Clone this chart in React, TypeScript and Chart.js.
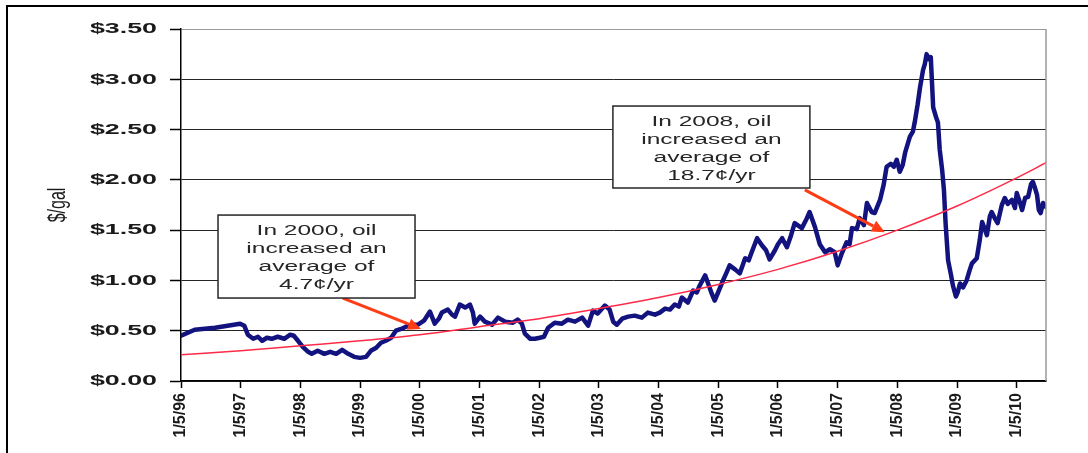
import { useEffect, useRef } from 'react';
import { Chart, registerables } from 'chart.js';

Chart.register(...registerables);

// Weekly oil price, $/gal: [year (fraction), price]
const PRICE_POINTS: [number, number][] = [
  [1996.00, 0.45], [1996.23, 0.51], [1996.57, 0.53], [1996.99, 0.57], [1997.06, 0.55], [1997.12, 0.46],
  [1997.21, 0.42], [1997.29, 0.44], [1997.36, 0.40], [1997.44, 0.43], [1997.52, 0.42], [1997.62, 0.44],
  [1997.73, 0.42], [1997.83, 0.46], [1997.89, 0.45], [1997.96, 0.40], [1998.04, 0.34], [1998.13, 0.29],
  [1998.19, 0.27], [1998.29, 0.30], [1998.40, 0.27], [1998.50, 0.29], [1998.60, 0.27], [1998.70, 0.31],
  [1998.80, 0.27], [1998.90, 0.24], [1999.00, 0.23], [1999.10, 0.24], [1999.18, 0.30], [1999.27, 0.33],
  [1999.35, 0.38], [1999.43, 0.40], [1999.52, 0.43], [1999.60, 0.50], [1999.70, 0.52], [1999.80, 0.55],
  [1999.90, 0.56], [1999.97, 0.56], [2000.07, 0.60], [2000.17, 0.69], [2000.25, 0.57], [2000.32, 0.62],
  [2000.37, 0.68], [2000.47, 0.71], [2000.54, 0.66], [2000.59, 0.64], [2000.67, 0.76], [2000.76, 0.73],
  [2000.84, 0.76], [2000.89, 0.68], [2000.92, 0.57], [2001.01, 0.64], [2001.09, 0.59], [2001.21, 0.56],
  [2001.31, 0.63], [2001.43, 0.59], [2001.56, 0.58], [2001.64, 0.61], [2001.71, 0.57], [2001.76, 0.47],
  [2001.85, 0.42], [2001.93, 0.42], [2002.01, 0.43], [2002.08, 0.44], [2002.15, 0.53], [2002.26, 0.58],
  [2002.38, 0.57], [2002.48, 0.61], [2002.60, 0.59], [2002.72, 0.63], [2002.82, 0.55], [2002.90, 0.70],
  [2002.98, 0.67], [2003.10, 0.75], [2003.18, 0.71], [2003.24, 0.59], [2003.30, 0.56], [2003.39, 0.62],
  [2003.49, 0.64], [2003.60, 0.65], [2003.72, 0.63], [2003.82, 0.68], [2003.94, 0.66], [2004.02, 0.68],
  [2004.11, 0.72], [2004.19, 0.71], [2004.27, 0.76], [2004.34, 0.74], [2004.39, 0.83], [2004.49, 0.78],
  [2004.58, 0.90], [2004.64, 0.88], [2004.69, 0.95], [2004.78, 1.05], [2004.83, 0.97], [2004.89, 0.87],
  [2004.94, 0.80], [2004.99, 0.87], [2005.08, 1.00], [2005.14, 1.08], [2005.19, 1.15], [2005.28, 1.11],
  [2005.36, 1.07], [2005.45, 1.22], [2005.51, 1.20], [2005.56, 1.28], [2005.65, 1.42], [2005.73, 1.35],
  [2005.80, 1.30], [2005.86, 1.21], [2005.95, 1.30], [2006.00, 1.36], [2006.07, 1.42], [2006.15, 1.33],
  [2006.22, 1.45], [2006.28, 1.57], [2006.40, 1.52], [2006.47, 1.60], [2006.53, 1.68], [2006.62, 1.53],
  [2006.70, 1.36], [2006.79, 1.28], [2006.87, 1.31], [2006.95, 1.28], [2007.00, 1.15], [2007.07, 1.27],
  [2007.15, 1.38], [2007.20, 1.36], [2007.24, 1.52], [2007.32, 1.51], [2007.37, 1.62], [2007.44, 1.55],
  [2007.49, 1.77], [2007.57, 1.68], [2007.62, 1.67], [2007.71, 1.80], [2007.77, 1.95], [2007.82, 2.13],
  [2007.89, 2.16], [2007.94, 2.13], [2007.99, 2.20], [2008.04, 2.08], [2008.09, 2.15], [2008.13, 2.27],
  [2008.21, 2.43], [2008.26, 2.48], [2008.29, 2.57], [2008.34, 2.75], [2008.38, 2.92], [2008.43, 3.09],
  [2008.46, 3.15], [2008.49, 3.25], [2008.53, 3.20], [2008.56, 3.22], [2008.60, 2.72], [2008.65, 2.62],
  [2008.68, 2.57], [2008.71, 2.30], [2008.75, 2.10], [2008.78, 1.90], [2008.81, 1.55], [2008.85, 1.20],
  [2008.90, 1.05], [2008.93, 0.95], [2008.98, 0.84], [2009.01, 0.88], [2009.05, 0.97], [2009.10, 0.93],
  [2009.16, 1.00], [2009.21, 1.10], [2009.25, 1.17], [2009.33, 1.22], [2009.38, 1.40], [2009.42, 1.58],
  [2009.47, 1.50], [2009.50, 1.45], [2009.55, 1.64], [2009.58, 1.68], [2009.63, 1.62], [2009.68, 1.57],
  [2009.75, 1.75], [2009.80, 1.82], [2009.85, 1.76], [2009.92, 1.80], [2009.97, 1.72], [2010.00, 1.87],
  [2010.05, 1.78], [2010.09, 1.70], [2010.14, 1.82], [2010.19, 1.83], [2010.24, 1.96], [2010.27, 1.98],
  [2010.30, 1.93], [2010.34, 1.85], [2010.37, 1.70], [2010.40, 1.67], [2010.44, 1.77], [2010.49, 1.73],
];

// Red trend curve at each year
const TREND_YEARS = [1996, 1997, 1998, 1999, 2000, 2001, 2002, 2003, 2004, 2005, 2006, 2007, 2008, 2009, 2010, 2010.49];
const TREND_VALUES = [0.26, 0.30, 0.35, 0.40, 0.46, 0.54, 0.62, 0.72, 0.83, 0.96, 1.11, 1.29, 1.50, 1.74, 2.02, 2.17];

const TICK_YEARS = [1996, 1997, 1998, 1999, 2000, 2001, 2002, 2003, 2004, 2005, 2006, 2007, 2008, 2009, 2010];
const TICK_LABELS = ['1/5/96', '1/5/97', '1/5/98', '1/5/99', '1/5/00', '1/5/01', '1/5/02', '1/5/03', '1/5/04',
  '1/5/05', '1/5/06', '1/5/07', '1/5/08', '1/5/09', '1/5/10'];
const X_MIN = 1996;
const X_MAX = 2010.49;
const Y_MAX = 3.5;
const Y_STEP = 0.5;
const Y_TITLE = '$/gal';

const NOTES = [
  {
    lines: ['In 2000, oil', 'increased an', 'average of', '4.7¢/yr'],
    box: [1996.62, 1.65, 1999.92, 0.825],
    from: [1998.71, 0.825],
    to: [2000.02, 0.517],
  },
  {
    lines: ['In 2008, oil', 'increased an', 'average of', '18.7¢/yr'],
    box: [2003.235, 2.734, 2006.535, 1.919],
    from: [2006.45, 1.9],
    to: [2007.79, 1.48],
  },
];

const NAVY = '#13137f';
const TREND_RED = '#ff2a48';
const ARROW = '#ff3c16';
const INK = '#1a1a1a';
const GRID_DARK = '#262626';
const GRID_GRAY = '#9a9a9a';
const TEXT_STRETCH = 1.73; // the original picture is stretched sideways
const Y_LABEL_RIGHT = 157;

const framePlugin = {
  id: 'frameNotes',
  beforeDraw(chart: any) {
    chart.ctx.setTransform(1, 0, 0, 1, 0, 0);
  },
  afterDatasetsDraw(chart: any) {
    // y tick labels (ticks.z = 1) are drawn next: widen them about their right edge
    chart.ctx.setTransform(TEXT_STRETCH, 0, 0, 1, Y_LABEL_RIGHT * (1 - TEXT_STRETCH), 0);
  },
  afterDraw(chart: any) {
    const { ctx, chartArea: a } = chart;
    ctx.setTransform(1, 0, 0, 1, 0, 0);
    const xs = chart.scales.x;
    const ys = chart.scales.y;
    ctx.save();

    // plot area right border
    ctx.strokeStyle = GRID_GRAY;
    ctx.lineWidth = 1.5;
    ctx.beginPath();
    ctx.moveTo(a.right, a.top);
    ctx.lineTo(a.right, a.bottom);
    ctx.stroke();

    // outer frame
    ctx.strokeStyle = '#000';
    ctx.lineWidth = 2;
    ctx.beginPath();
    ctx.moveTo(7, chart.height);
    ctx.lineTo(7, 6);
    ctx.lineTo(chart.width, 6);
    ctx.stroke();

    // y axis title
    ctx.save();
    ctx.fillStyle = INK;
    ctx.font = '16px "Liberation Sans", Arial, sans-serif';
    ctx.textAlign = 'center';
    ctx.textBaseline = 'middle';
    ctx.translate(59, (a.top + a.bottom) / 2);
    ctx.rotate(-Math.PI / 2);
    ctx.scale(1, 1.45);
    ctx.fillText(Y_TITLE, 0, 0);
    ctx.restore();

    for (const n of NOTES) {
      // arrow
      const x1 = xs.getPixelForValue(n.from[0]);
      const y1 = ys.getPixelForValue(n.from[1]);
      const x2 = xs.getPixelForValue(n.to[0]);
      const y2 = ys.getPixelForValue(n.to[1]);
      const ang = Math.atan2(y2 - y1, x2 - x1);
      const hl = 13;
      const hw = 6;
      const bx = x2 - hl * Math.cos(ang);
      const by = y2 - hl * Math.sin(ang);
      ctx.strokeStyle = ARROW;
      ctx.fillStyle = ARROW;
      ctx.lineWidth = 3;
      ctx.beginPath();
      ctx.moveTo(x1, y1);
      ctx.lineTo(bx, by);
      ctx.stroke();
      ctx.beginPath();
      ctx.moveTo(x2, y2);
      ctx.lineTo(bx + hw * Math.sin(ang), by - hw * Math.cos(ang));
      ctx.lineTo(bx - hw * Math.sin(ang), by + hw * Math.cos(ang));
      ctx.closePath();
      ctx.fill();

      // box
      const l = xs.getPixelForValue(n.box[0]);
      const t = ys.getPixelForValue(n.box[1]);
      const r = xs.getPixelForValue(n.box[2]);
      const b = ys.getPixelForValue(n.box[3]);
      ctx.fillStyle = '#fff';
      ctx.fillRect(l, t, r - l, b - t);
      ctx.strokeStyle = GRID_DARK;
      ctx.lineWidth = 1.5;
      ctx.strokeRect(l, t, r - l, b - t);

      // text (stretched like the original)
      ctx.fillStyle = '#262626';
      ctx.font = '14px "Liberation Sans", Arial, sans-serif';
      ctx.textAlign = 'center';
      ctx.textBaseline = 'alphabetic';
      const cx = (l + r) / 2;
      n.lines.forEach((s, i) => {
        ctx.save();
        ctx.translate(cx, t + 19.5 + i * 18.3);
        ctx.scale(1.75, 1);
        ctx.fillText(s, 0, 0);
        ctx.restore();
      });
    }
    ctx.restore();
  },
};

export default function App() {
  const ref = useRef<HTMLCanvasElement>(null);

  useEffect(() => {
    const canvas = ref.current;
    if (!canvas) return;
    const chart = new Chart(canvas, {
      type: 'line',
      data: {
        datasets: [
          {
            label: 'Trend',
            data: TREND_YEARS.map((x, i) => ({ x, y: TREND_VALUES[i] })),
            borderColor: TREND_RED,
            borderWidth: 1.5,
            pointRadius: 0,
            cubicInterpolationMode: 'monotone',
            fill: false,
            order: 0,
          },
          {
            label: 'Oil price',
            data: PRICE_POINTS.map(([x, y]) => ({ x, y })),
            borderColor: NAVY,
            borderWidth: 4.5,
            pointRadius: 0,
            tension: 0,
            borderJoinStyle: 'round',
            borderCapStyle: 'round',
            fill: false,
            order: 1,
          },
        ],
      },
      options: {
        animation: false,
        responsive: false,
        devicePixelRatio: 1,
        layout: { padding: { left: 0, top: 29, right: 42, bottom: 0 } },
        plugins: {
          legend: { display: false },
          tooltip: { enabled: false },
        },
        scales: {
          x: {
            type: 'linear',
            min: X_MIN,
            max: X_MAX,
            afterBuildTicks: (scale: any) => {
              scale.ticks = TICK_YEARS.map((v) => ({ value: v }));
            },
            afterFit: (scale: any) => {
              scale.height = 72;
            },
            grid: {
              display: true,
              drawOnChartArea: false,
              drawTicks: true,
              tickLength: 7,
              tickColor: '#000',
              tickWidth: 1.5,
            },
            border: { color: '#000', width: 1.5 },
            ticks: {
              autoSkip: false,
              minRotation: 90,
              maxRotation: 90,
              padding: 5,
              color: INK,
              font: { family: '"Liberation Sans", Arial, sans-serif', size: 16, weight: 'bold' },
              callback: (v: any) => {
                const i = TICK_YEARS.indexOf(Number(v));
                return i >= 0 ? TICK_LABELS[i] : '';
              },
            },
          },
          y: {
            min: 0,
            max: Y_MAX,
            afterFit: (scale: any) => {
              scale.width = 181;
            },
            grid: {
              color: (c: any) => (c.tick && c.tick.value === Y_MAX ? GRID_GRAY : GRID_DARK),
              lineWidth: 1,
              drawTicks: true,
              tickLength: 11,
              tickColor: '#000',
              tickWidth: 1.5,
            },
            border: { color: '#000', width: 1.5 },
            ticks: {
              stepSize: Y_STEP,
              padding: 13,
              z: 1,
              color: INK,
              font: { family: '"Liberation Sans", Arial, sans-serif', size: 15.5, weight: 'bold' },
              callback: (v: any) => '$' + Number(v).toFixed(2),
            },
          },
        },
      },
      plugins: [framePlugin],
    } as any);
    return () => chart.destroy();
  }, []);

  return (
    <div style={{ position: 'absolute', left: 0, top: 0, width: 1088, height: 453, background: '#fff' }}>
      <canvas ref={ref} width={1088} height={453} style={{ display: 'block' }} />
    </div>
  );
}
